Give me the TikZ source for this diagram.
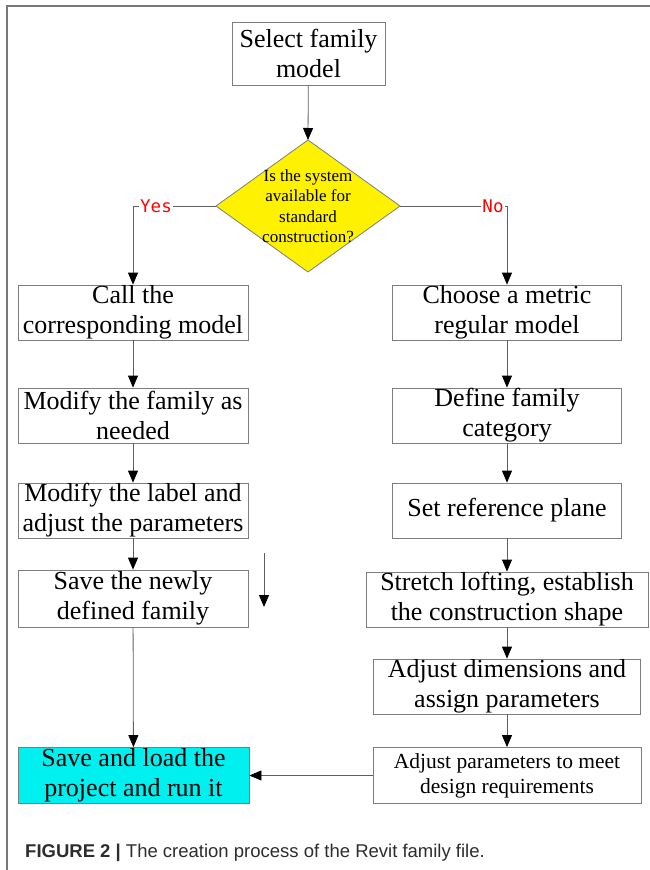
\documentclass[tikz,border=0pt]{standalone}
\usepackage{fontspec}
\setmainfont{Liberation Serif}
\newfontfamily\capfont{Liberation Sans}
\newfontfamily\yesnofont{DejaVu Sans Mono}
\usetikzlibrary{arrows.meta}
\definecolor{linegray}{RGB}{95,95,95}
\definecolor{boxgray}{RGB}{125,125,125}
\definecolor{framegray}{RGB}{120,120,120}
\definecolor{savecyan}{RGB}{0,240,240}
\definecolor{captext}{RGB}{45,45,45}

\begin{document}
\begin{tikzpicture}[x=1pt,y=-1pt,
    box/.style={draw=boxgray,line width=0.8pt,fill=white,inner sep=0pt,align=center,
      minimum height=55pt,font=\fontsize{26}{30}\selectfont},
    arr/.style={draw=linegray,line width=0.8pt,-{Triangle[length=12pt,width=10pt,color=black]}},
    yesno/.style={fill=white,inner sep=1pt,text=red,font=\yesnofont\fontsize{17.5}{17.5}\selectfont}]
      \useasboundingbox (0,0) rectangle (650,870);
      \draw[framegray,line width=1.5pt] (7,870) -- (7,6) -- (650,6);

      \coordinate (decT) at (308,140);
      \coordinate (decR) at (400,206);
      \coordinate (decB) at (308,272);
      \coordinate (decL) at (216,206);
      \coordinate (s1) at (264,553);
      \coordinate (s2) at (264,607);

      \node[box,minimum width=153pt,minimum height=63pt] (sel) at (308.5,53.5) {Select family\\model};
      \draw[draw=boxgray,line width=0.8pt,fill=yellow] (decT) -- (decR) -- (decB) -- (decL) -- cycle;
      \node[align=center,inner sep=0pt,font=\fontsize{17}{20.5}\selectfont] (dec) at (308,206)
        {Is the system\\available for\\standard\\construction?};

      \node[box,minimum width=230pt] (call) at (133,312.5) {Call the\\corresponding model};
      \node[box,minimum width=230pt] (needed) at (133,415.5) {Modify the family as\\needed};
      \node[box,minimum width=230pt] (label) at (133,510.5) {Modify the label and\\adjust the parameters};
      \node[box,minimum width=230pt,minimum height=57pt] (newfam) at (133,598.5) {Save the newly\\defined family};
      \node[box,minimum width=231pt,minimum height=56pt,fill=savecyan] (load) at (133.5,775.5) {Save and load the\\project and run it};

      \node[box,minimum width=229pt] (metric) at (507,312.5) {Choose a metric\\regular model};
      \node[box,minimum width=229pt] (category) at (507,415.5) {Define family\\category};
      \node[box,minimum width=229pt] (plane) at (507,510.5) {Set reference plane};
      \node[box,minimum width=282pt] (loft) at (507,599.5) {Stretch lofting, establish\\the construction shape};
      \node[box,minimum width=267pt] (dims) at (507,686.5) {Adjust dimensions and\\assign parameters};
      \node[box,minimum width=268pt,minimum height=56pt,font=\fontsize{21.5}{25}\selectfont] (meet) at (507,775.5)
        {Adjust parameters to meet\\design requirements};

      \draw[arr] (sel) -- (decT);
      \draw[arr] (decL) -| (call);
      \draw[arr] (decR) -| (metric);
      \node[yesno] (yes) at (156,206) {Yes};
      \node[yesno] (no) at (493,206) {No};

      \draw[arr] (call) -- (needed);
      \draw[arr] (needed) -- (label);
      \draw[arr] (label) -- (newfam);
      \draw[arr] (newfam) -- (load);
      \draw[arr] (s1) -- (s2);

      \draw[arr] (metric) -- (category);
      \draw[arr] (category) -- (plane);
      \draw[arr] (plane) -- (loft);
      \draw[arr] (loft) -- (dims);
      \draw[arr] (dims) -- (meet);
      \draw[arr] (meet) -- (load);

      \node[anchor=base west,inner sep=0pt,text=captext,font=\capfont\fontsize{18.5}{22}\selectfont] (cap) at (25,857)
        {\textbf{FIGURE 2 |} The creation process of the Revit family file.};
    \end{tikzpicture}
\end{document}
